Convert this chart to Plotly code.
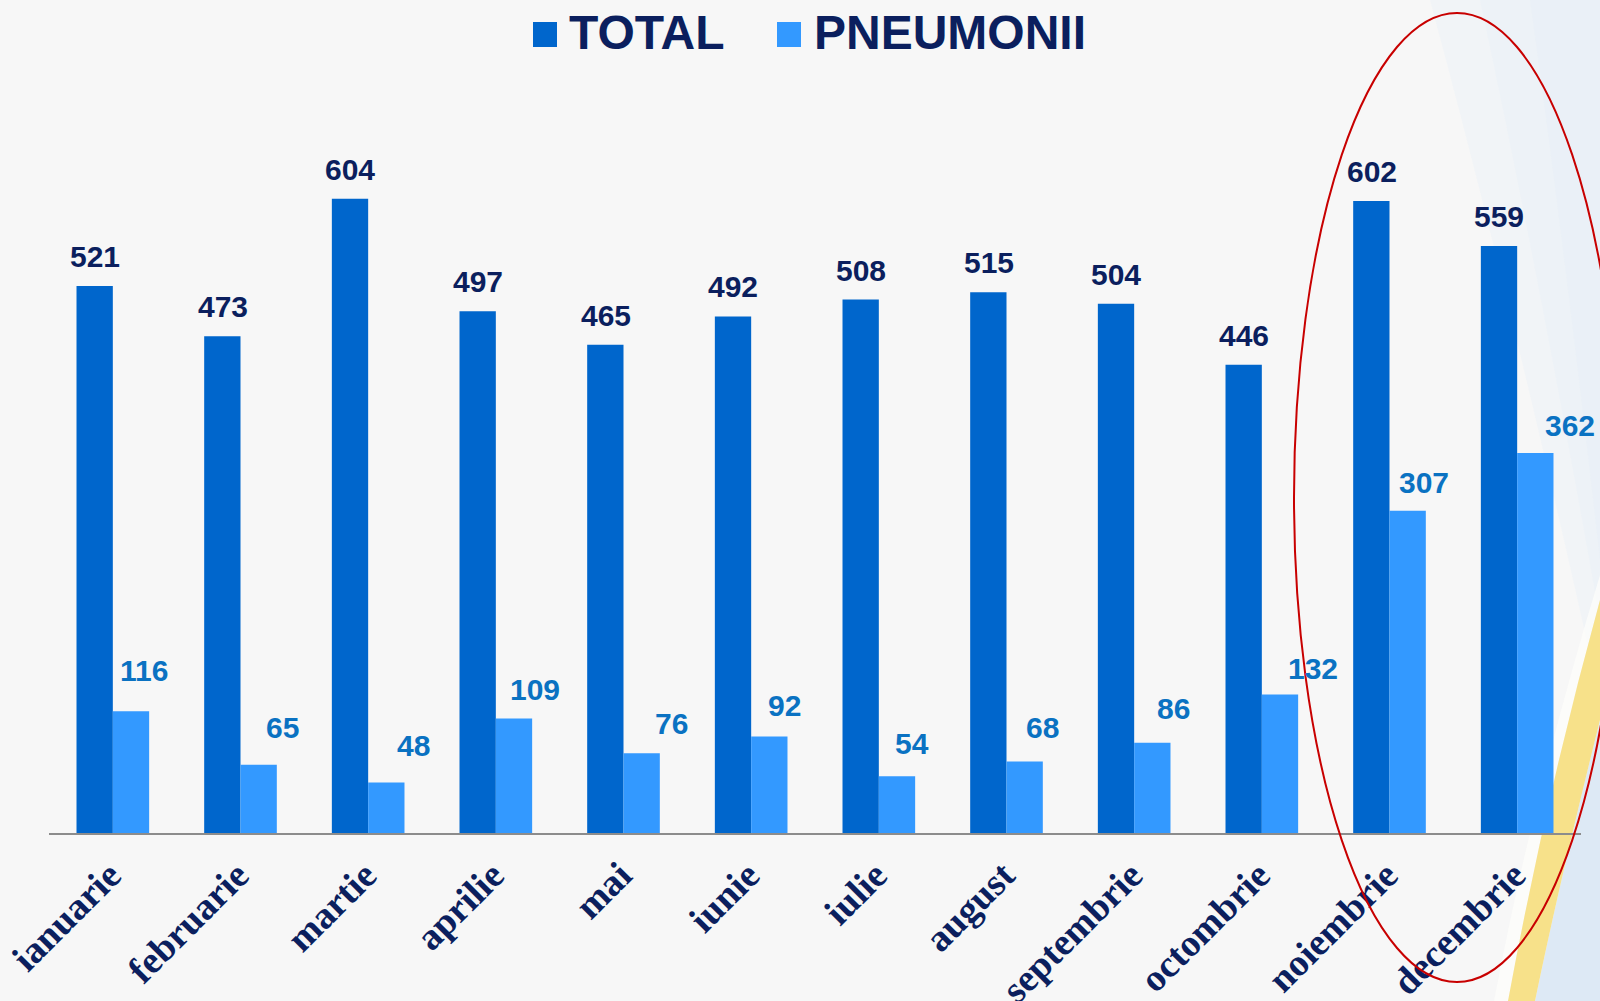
import plotly.graph_objects as go

months = ["ianuarie", "februarie", "martie", "aprilie", "mai", "iunie",
          "iulie", "august", "septembrie", "octombrie", "noiembrie", "decembrie"]
total = [521, 473, 604, 497, 465, 492, 508, 515, 504, 446, 602, 559]
pneumonii = [116, 65, 48, 109, 76, 92, 54, 68, 86, 132, 307, 362]

# label placement offsets (pixels) for the PNEUMONII value labels
pneu_dx = [13, 24, 27, 21, 30, 15, 15, 18, 21, 33, 16, 35]
pneu_dy = [29, 26, 26, 18, 18, 19, 21, 23, 23, 14, 17, 16]

W, H = 1600, 1001
ML, MR, MT, MB = 49, 19, 98, 168
PW, PH = W - ML - MR, H - MT - MB

def px(x):
    return (x - ML) / PW

def py(y):
    return (H - MB - y) / PH

NAVY = "#0b1f5e"
C_TOTAL = "#0066cc"
C_PNEU = "#3399ff"
C_PNEU_TXT = "#0a72c2"

fig = go.Figure()
fig.add_trace(go.Bar(x=months, y=total, name="TOTAL", marker_color=C_TOTAL,
                     marker_line_width=0))
fig.add_trace(go.Bar(x=months, y=pneumonii, name="PNEUMONII", marker_color=C_PNEU,
                     marker_line_width=0))

ann = []
for i, m in enumerate(months):
    ann.append(dict(x=m, y=total[i], xref="x", yref="y", text=str(total[i]),
                    showarrow=False, xanchor="center", yanchor="bottom",
                    xshift=-18, yshift=11,
                    font=dict(family="Liberation Sans, Arial", size=30,
                              color=NAVY, weight="bold")))
    ann.append(dict(x=m, y=pneumonii[i], xref="x", yref="y", text=str(pneumonii[i]),
                    showarrow=False, xanchor="center", yanchor="bottom",
                    xshift=18 + pneu_dx[i], yshift=pneu_dy[i] - 7,
                    font=dict(family="Liberation Sans, Arial", size=30,
                              color=C_PNEU_TXT, weight="bold")))

# manual legend
legend_items = [("TOTAL", C_TOTAL, 533, 567), ("PNEUMONII", C_PNEU, 777, 812)]
shapes = []
for name, col, sx, tx in legend_items:
    shapes.append(dict(type="rect", xref="paper", yref="paper",
                       x0=px(sx), x1=px(sx + 24), y0=py(47), y1=py(22),
                       fillcolor=col, line_width=0))
    ann.append(dict(x=px(tx), y=py(61), xref="paper", yref="paper", text=name,
                    showarrow=False, xanchor="left", yanchor="bottom",
                    font=dict(family="Liberation Sans, Arial", size=48,
                              color=NAVY, weight="bold")))

# background decoration: soft bluish tint top-right
for x_start, y_end, op in [(1430, 700, 0.3), (1480, 620, 0.3), (1530, 560, 0.35)]:
    tint_path = (f"M {px(x_start)},{py(0)} Q {px((x_start + 1600) / 2)},{py(y_end * 0.45)} "
                 f"{px(1600)},{py(y_end)} L {px(1600)},{py(0)} Z")
    shapes.append(dict(type="path", xref="paper", yref="paper", path=tint_path,
                       fillcolor="#e4edf7", opacity=op, line_width=0, layer="below"))
blue_path = (f"M {px(1535)},{py(1001)} Q {px(1560)},{py(880)} {px(1600)},{py(720)} "
             f"L {px(1600)},{py(1001)} Z")
shapes.append(dict(type="path", xref="paper", yref="paper", path=blue_path,
                   fillcolor="#dde9f5", line_width=0, layer="below"))
glow_path = (f"M {px(1494)},{py(1001)} Q {px(1533)},{py(795)} {px(1600)},{py(575)} "
             f"L {px(1600)},{py(600)} Q {px(1545)},{py(800)} {px(1508)},{py(1001)} Z")
shapes.append(dict(type="path", xref="paper", yref="paper", path=glow_path,
                   fillcolor="#fdfdfb", opacity=0.7, line_width=0, layer="below"))
yellow_path = (f"M {px(1508)},{py(1001)} Q {px(1545)},{py(800)} {px(1600)},{py(600)} "
               f"L {px(1600)},{py(720)} Q {px(1560)},{py(880)} {px(1535)},{py(1001)} Z")
shapes.append(dict(type="path", xref="paper", yref="paper", path=yellow_path,
                   fillcolor="#f7e18a", line_width=0, layer="below"))

# red highlight ellipse
shapes.append(dict(type="circle", xref="paper", yref="paper",
                   x0=px(1294), x1=px(1620), y0=py(982), y1=py(13),
                   line=dict(color="#c80000", width=2), fillcolor="rgba(0,0,0,0)",
                   layer="above"))

fig.update_layout(
    width=W, height=H,
    margin=dict(l=ML, r=MR, t=MT, b=MB, pad=0),
    paper_bgcolor="#f7f7f7", plot_bgcolor="rgba(0,0,0,0)",
    barmode="group", bargap=0.431, bargroupgap=0,
    showlegend=False,
    annotations=ann, shapes=shapes,
    xaxis=dict(showline=True, linecolor="#8c8c8c", linewidth=1.5, ticks="",
               showgrid=False, tickangle=-45, automargin=False,
               range=[-0.5, len(months) - 0.5], ticklabelstandoff=3,
               ticklabelshift=-3,
               tickfont=dict(family="Liberation Serif, Times New Roman", size=38,
                             color=NAVY, weight="bold")),
    yaxis=dict(visible=False, range=[0, 700], showgrid=False, zeroline=False,
               automargin=False),
)

fig.write_html("out.html", post_script="document.body.style.margin='0';",
               config={"displayModeBar": False})
